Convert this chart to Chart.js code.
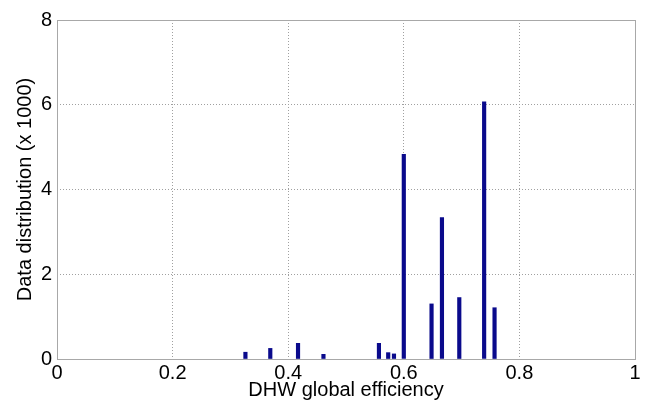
<!DOCTYPE html>
<html>
<head>
<meta charset="utf-8">
<script src="https://cdn.jsdelivr.net/npm/chart.js@4"></script>
<style>
  html, body { margin: 0; padding: 0; background: #fff; }
  #wrap { width: 651px; height: 401px; }
</style>
</head>
<body>
<div id="wrap"><canvas id="myChart" width="651" height="401"></canvas></div>
<script>
var efficiency = [0.326, 0.369, 0.417, 0.461, 0.557, 0.573, 0.583, 0.600, 0.648, 0.666, 0.696, 0.739, 0.757];
var counts = [0.16, 0.25, 0.37, 0.11, 0.37, 0.15, 0.12, 4.83, 1.30, 3.34, 1.45, 6.07, 1.21];
var xTicks = [0, 0.2, 0.4, 0.6, 0.8, 1];
var yTicks = [0, 2, 4, 6, 8];

var points = efficiency.map(function (e, i) { return { x: e, y: counts[i] }; });

var boxPlugin = {
  id: 'box',
  afterDraw: function (chart) {
    var a = chart.chartArea, c = chart.ctx;
    c.save();
    c.strokeStyle = '#a8a8a8';
    c.lineWidth = 1;
    c.strokeRect(Math.round(a.left) + 0.5, Math.round(a.top) + 0.5, Math.round(a.right - a.left), Math.round(a.bottom - a.top));
    c.restore();
  }
};

Chart.defaults.font.family = '"Liberation Sans", Arial, sans-serif';
Chart.defaults.color = '#000';

var ctx = document.getElementById('myChart');
new Chart(ctx, {
  type: 'bar',
  data: {
    datasets: [{
      data: points,
      backgroundColor: '#0a0a8c',
      borderWidth: 0,
      barThickness: 3.5
    }]
  },
  options: {
    responsive: false,
    animation: false,
    layout: { padding: { top: 20, right: 16, left: 0, bottom: 0 } },
    plugins: { legend: { display: false }, tooltip: { enabled: false } },
    scales: {
      x: {
        type: 'linear',
        min: 0, max: 1,
        offset: false,
        afterBuildTicks: function (s) { s.ticks = xTicks.map(function (v) { return { value: v }; }); },
        afterFit: function (s) { s.height = 42; },
        ticks: {
          font: { size: 20 },
          padding: 2,
          maxRotation: 0,
          callback: function (v) { return String(v); }
        },
        grid: {
          offset: false,
          color: '#a0a0a0',
          drawTicks: false,
          tickLength: 0
        },
        border: { display: false, dash: [1, 2] },
        title: {
          display: true,
          text: 'DHW global efficiency',
          font: { size: 20, lineHeight: 1.1 },
          padding: 0
        }
      },
      y: {
        min: 0, max: 8,
        afterBuildTicks: function (s) { s.ticks = yTicks.map(function (v) { return { value: v }; }); },
        afterFit: function (s) { s.width = 57; },
        ticks: {
          font: { size: 20 },
          padding: 5
        },
        grid: {
          color: '#a0a0a0',
          drawTicks: false,
          tickLength: 0
        },
        border: { display: false, dash: [1, 2] },
        title: {
          display: true,
          text: 'Data distribution (x 1000)',
          font: { size: 20 },
          padding: { top: 13, bottom: 0 }
        }
      }
    }
  },
  plugins: [boxPlugin]
});
</script>
</body>
</html>
